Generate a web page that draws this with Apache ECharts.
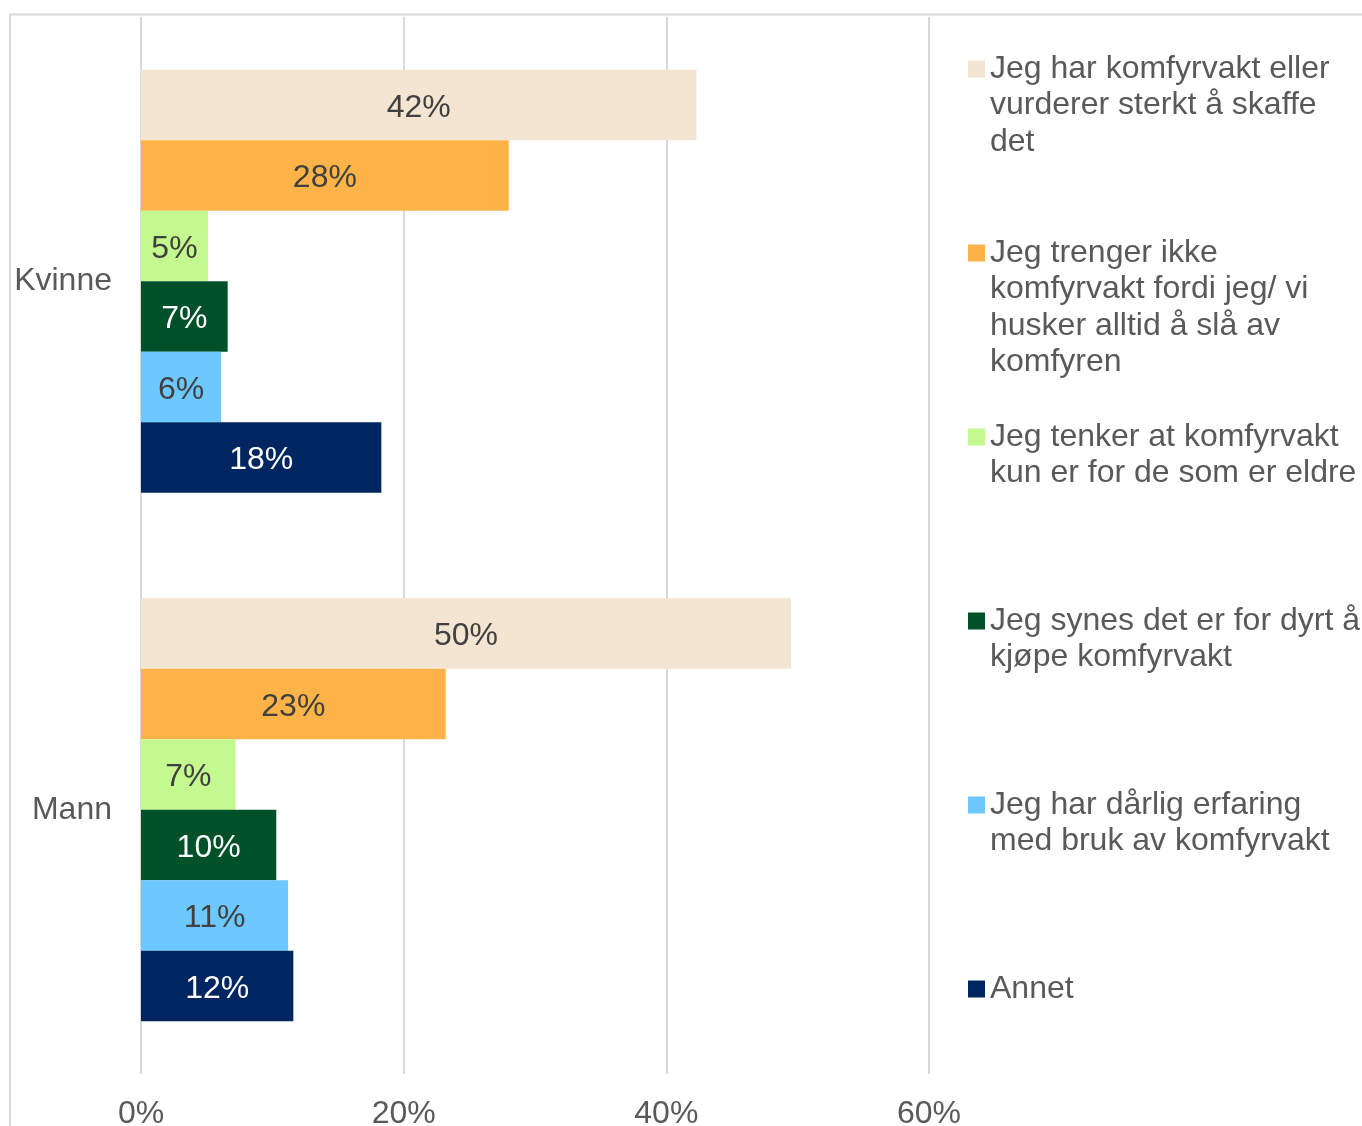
<!DOCTYPE html>
<html>
<head>
<meta charset="utf-8">
<script src="https://cdn.jsdelivr.net/npm/echarts@6/dist/echarts.min.js"></script>
<style>html,body{margin:0;padding:0;background:#fff}#c{width:1362px;height:1126px}</style>
</head>
<body>
<div id="c"></div>
<script>
const categories = ['Kvinne', 'Mann'];
const seriesNames = [
  'Jeg har komfyrvakt eller vurderer sterkt å skaffe det',
  'Jeg trenger ikke komfyrvakt fordi jeg/ vi husker alltid å slå av komfyren',
  'Jeg tenker at komfyrvakt kun er for de som er eldre',
  'Jeg synes det er for dyrt å kjøpe komfyrvakt',
  'Jeg har dårlig erfaring med bruk av komfyrvakt',
  'Annet'
];
const legendLines = [
  ['Jeg har komfyrvakt eller', 'vurderer sterkt å skaffe', 'det'],
  ['Jeg trenger ikke', 'komfyrvakt fordi jeg/ vi', 'husker alltid å slå av', 'komfyren'],
  ['Jeg tenker at komfyrvakt', 'kun er for de som er eldre'],
  ['Jeg synes det er for dyrt å', 'kjøpe komfyrvakt'],
  ['Jeg har dårlig erfaring', 'med bruk av komfyrvakt'],
  ['Annet']
];
const kvinne = [42.3, 28.0, 5.1, 6.6, 6.1, 18.3];
const mann = [49.5, 23.2, 7.2, 10.3, 11.2, 11.6];
const xTicks = [0, 20, 40, 60];
const colors = ['#F4E5D2', '#FDB347', '#C3F98F', '#00502A', '#6DC8FF', '#002661'];
const labelColors = ['#404040', '#404040', '#404040', '#ffffff', '#404040', '#ffffff'];

const FS = 32, LH = 36.5, TXT = '#595959';
const legendCenters = [69, 253, 437, 621, 805, 989];

const chart = echarts.init(document.getElementById('c'), null, {renderer: 'canvas'});
chart.setOption({
  animation: false,
  backgroundColor: '#fff',
  textStyle: {fontFamily: 'Liberation Sans, Arial, sans-serif'},
  graphic: [{
    type: 'rect', silent: true, z: -10,
    shape: {x: 10, y: 14.5, width: 1400, height: 1200},
    style: {fill: 'none', stroke: '#d9d9d9', lineWidth: 2}
  }],
  grid: {left: 141, right: 433, top: 17, bottom: 52, containLabel: false, outerBoundsMode: 'none'},
  xAxis: {
    type: 'value', min: xTicks[0], max: xTicks[xTicks.length - 1], interval: 20,
    axisLine: {show: false}, axisTick: {show: false},
    axisLabel: {formatter: '{value}%', fontSize: FS, color: TXT, margin: 24},
    splitLine: {show: true, lineStyle: {color: '#d9d9d9', width: 2}}
  },
  yAxis: {
    type: 'category', data: categories, inverse: true,
    axisLine: {show: false}, axisTick: {show: false},
    axisLabel: {fontSize: FS, color: TXT, margin: 29, padding: [4, 0, 0, 0]}
  },
  legend: seriesNames.map((name, i) => {
    const n = legendLines[i].length;
    return {
      data: [name], orient: 'vertical', left: 968, padding: 0,
      top: legendCenters[i] - (2 * n - 1) * LH / 2,
      itemWidth: 17, itemHeight: 17, icon: 'rect', selectedMode: false,
      formatter: () => '\n'.repeat(n - 1) + legendLines[i].join('\n'),
      textStyle: {fontSize: FS, lineHeight: LH, color: TXT}
    };
  }),
  series: seriesNames.map((name, i) => ({
    name: name, type: 'bar', barGap: '0%', barCategoryGap: '20%',
    data: [kvinne[i], mann[i]],
    itemStyle: {color: colors[i]},
    label: {
      show: true, position: 'inside', fontSize: FS, color: labelColors[i],
      offset: [0, 3],
      formatter: p => Math.round(p.value) + '%'
    }
  }))
});
</script>
</body>
</html>
